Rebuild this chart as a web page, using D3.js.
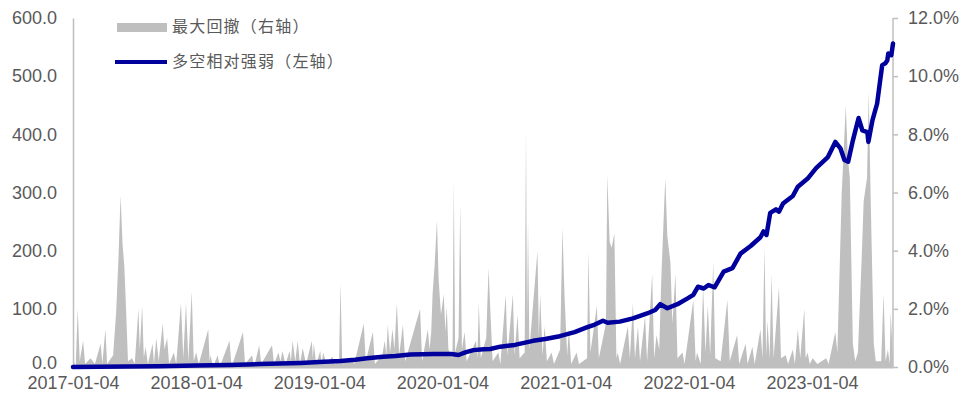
<!DOCTYPE html>
<html>
<head>
<meta charset="utf-8">
<script src="https://cdn.jsdelivr.net/npm/d3@7"></script>
<style>
  body { margin: 0; background: #fff; }
  svg text { font-family: "Liberation Sans", Arial, sans-serif; fill: #595959; }
  .legend text { font-family: "Noto Sans CJK SC", sans-serif; }
</style>
</head>
<body>
<svg id="chart" width="976" height="400"></svg>
<script>
// ─── Data ──────────────────────────────────────
const xTickDates = ["2017-01-04", "2018-01-04", "2019-01-04", "2020-01-04", "2021-01-04", "2022-01-04", "2023-01-04"];
const leftTicks  = [0, 100, 200, 300, 400, 500, 600];
const rightTicks = [0, 2, 4, 6, 8, 10, 12];
const seriesNames = ["最大回撤（右轴）", "多空相对强弱（左轴）"];

// 多空相对强弱 (left axis)
const strength = [
  ["2017-01-04", 0], ["2017-03-20", 0.5], ["2017-06-15", 1], ["2017-09-15", 1.5],
  ["2018-01-04", 2.5], ["2018-04-13", 3.5], ["2018-07-12", 5], ["2018-11-10", 7],
  ["2019-01-04", 8.5], ["2019-03-08", 10.3], ["2019-04-20", 12.5], ["2019-05-26", 15],
  ["2019-07-12", 17.7], ["2019-08-18", 19], ["2019-10-01", 21.5], ["2019-12-11", 22.3],
  ["2020-01-30", 22.5], ["2020-02-21", 20.6], ["2020-03-12", 25], ["2020-04-05", 29],
  ["2020-05-05", 30.4], ["2020-05-25", 31], ["2020-06-24", 35], ["2020-08-06", 38],
  ["2020-09-29", 45], ["2020-11-04", 48], ["2020-12-17", 53], ["2021-01-30", 60],
  ["2021-03-07", 68], ["2021-03-31", 73], ["2021-04-24", 79.6], ["2021-05-08", 76],
  ["2021-06-13", 78], ["2021-07-22", 83.7], ["2021-09-02", 92], ["2021-09-26", 98],
  ["2021-10-11", 108], ["2021-11-01", 101], ["2021-12-01", 108], ["2021-12-31", 118],
  ["2022-01-17", 124], ["2022-01-31", 138], ["2022-02-17", 135], ["2022-03-03", 141],
  ["2022-03-21", 137], ["2022-04-17", 164], ["2022-05-13", 170], ["2022-06-06", 195],
  ["2022-07-06", 208], ["2022-08-04", 223], ["2022-08-13", 233], ["2022-08-22", 227],
  ["2022-09-02", 265], ["2022-09-19", 271], ["2022-09-28", 267], ["2022-10-10", 281],
  ["2022-11-08", 294], ["2022-11-23", 310], ["2022-12-22", 324], ["2023-01-16", 342],
  ["2023-02-20", 361], ["2023-03-14", 387], ["2023-03-29", 376], ["2023-04-10", 356],
  ["2023-04-21", 353], ["2023-05-04", 387], ["2023-05-22", 428], ["2023-06-02", 407],
  ["2023-06-17", 404], ["2023-06-20", 387], ["2023-07-02", 424], ["2023-07-16", 453],
  ["2023-07-25", 493], ["2023-07-31", 519], ["2023-08-09", 522], ["2023-08-15", 527],
  ["2023-08-18", 539], ["2023-08-27", 536], ["2023-09-01", 556]
];

// 最大回撤 in % (right axis)
const drawdown = [
  ["2017-01-04",0.3],["2017-01-12",0],["2017-01-18",2.0],["2017-01-24",0.2],["2017-02-03",0.9],["2017-02-09",0.1],
  ["2017-02-25",0.3],["2017-03-10",0.1],["2017-03-27",0.8],["2017-04-01",0.1],["2017-04-10",1.3],["2017-04-15",0.1],
  ["2017-05-03",0.4],["2017-05-12",1.9],["2017-05-19",3.8],["2017-05-25",5.9],["2017-05-31",4.2],["2017-06-05",3.5],
  ["2017-06-09",2.4],["2017-06-16",0.2],["2017-06-28",0.3],["2017-07-06",0.1],["2017-07-17",2.0],["2017-07-21",0.6],
  ["2017-07-28",2.1],["2017-08-02",0.3],["2017-08-07",0.7],["2017-08-14",0.1],["2017-08-28",0.8],["2017-09-01",0.1],
  ["2017-09-08",1.0],["2017-09-15",0.2],["2017-09-27",1.5],["2017-10-02",0.6],["2017-10-10",1.0],["2017-10-16",0.1],
  ["2017-10-30",0.5],["2017-11-06",0.1],["2017-11-20",2.2],["2017-11-27",0.3],["2017-12-05",2.2],["2017-12-12",0.2],
  ["2017-12-22",2.6],["2017-12-28",0.2],
  ["2018-01-04",0.5],["2018-01-12",0.1],["2018-02-09",1.3],["2018-02-13",0.2],["2018-02-16",0.4],["2018-02-23",0],
  ["2018-03-09",0.4],["2018-03-15",0],["2018-04-13",0.9],["2018-04-19",0],["2018-05-23",1.2],["2018-05-29",0.1],
  ["2018-06-19",0.4],["2018-06-25",0],["2018-07-10",0.75],["2018-07-16",0.1],["2018-08-17",0.75],["2018-08-23",0.1],
  ["2018-09-05",0.5],["2018-09-11",0.2],["2018-09-17",0.55],["2018-09-26",0.1],["2018-10-08",0.55],["2018-10-12",0.2],
  ["2018-10-17",0.9],["2018-10-25",0.2],["2018-11-01",0.9],["2018-11-08",0.1],["2018-11-16",0.65],["2018-11-26",0.1],
  ["2018-12-13",0.9],["2018-12-16",0.3],["2018-12-19",0.8],["2018-12-26",0.1],
  ["2019-01-07",0.55],["2019-01-11",0.1],["2019-01-16",0.5],["2019-01-25",0.1],["2019-02-12",0.35],["2019-02-20",0.1],
  ["2019-03-04",0.3],["2019-03-08",2.9],["2019-03-13",0.2],["2019-04-10",0.3],["2019-04-18",0.1],["2019-05-16",1.5],
  ["2019-05-22",0.2],["2019-06-12",1.2],["2019-06-18",0.1],["2019-07-10",0.4],["2019-07-17",0.9],["2019-07-22",0.4],
  ["2019-07-26",1.45],["2019-08-02",0.5],["2019-08-09",1.3],["2019-08-15",0.6],["2019-08-22",2.2],["2019-08-29",0.4],
  ["2019-09-09",1.45],["2019-09-16",0.2],["2019-10-30",2.0],["2019-11-05",0.2],["2019-11-22",1.3],["2019-11-27",0.6],
  ["2019-12-02",1.2],["2019-12-06",2.5],["2019-12-12",3.5],["2019-12-19",5.05],["2019-12-24",3.0],["2019-12-31",1.8],
  ["2020-01-08",2.5],["2020-01-13",1.2],["2020-01-17",2.1],["2020-01-22",0.6],
  ["2020-02-03",0.3],["2020-02-07",6.4],["2020-02-11",0.5],["2020-02-21",1.0],["2020-02-26",5.6],["2020-03-02",0.6],
  ["2020-03-10",1.2],["2020-03-16",0.2],["2020-04-13",0.9],["2020-04-17",0.3],["2020-04-21",2.2],["2020-04-27",0.3],
  ["2020-05-13",1.0],["2020-05-20",3.4],["2020-05-25",2.0],["2020-06-01",0.2],["2020-06-18",0.5],["2020-06-24",0.1],
  ["2020-07-10",2.5],["2020-07-15",0.4],["2020-07-31",2.5],["2020-08-05",0.4],["2020-08-14",1.8],["2020-08-20",0.3],
  ["2020-09-04",0.5],["2020-09-08",8.15],["2020-09-11",1.5],["2020-09-14",4.95],["2020-09-18",0.6],["2020-10-12",4.0],
  ["2020-10-16",1.0],["2020-10-20",2.5],["2020-10-27",0.4],["2020-11-02",1.4],["2020-11-09",0.2],["2020-11-23",0.5],
  ["2020-11-30",0.1],["2020-12-18",0.6],["2020-12-25",4.8],["2020-12-31",2.5],
  ["2021-01-08",0.4],["2021-01-13",1.3],["2021-01-20",0.1],["2021-02-05",0.5],["2021-02-12",0.1],["2021-03-08",0.3],
  ["2021-03-12",4.0],["2021-03-18",0.5],["2021-04-06",2.1],["2021-04-12",0.3],["2021-05-03",1.5],["2021-05-07",6.6],
  ["2021-05-14",4.3],["2021-05-20",4.1],["2021-05-28",4.6],["2021-06-03",0.3],["2021-06-07",0.5],["2021-06-14",0.1],
  ["2021-07-07",1.4],["2021-07-13",0.3],["2021-07-22",2.2],["2021-07-28",0.3],["2021-08-06",1.4],["2021-08-12",0.2],
  ["2021-08-27",1.75],["2021-09-02",0.2],["2021-09-17",3.2],["2021-09-23",0.3],["2021-09-30",1.1],["2021-10-08",0.6],
  ["2021-10-14",3.0],["2021-10-20",4.8],["2021-10-26",6.5],["2021-11-01",4.5],["2021-11-10",3.6],["2021-11-16",1.5],
  ["2021-11-25",3.2],["2021-12-01",0.3],["2021-12-16",0.5],["2021-12-22",0.1],
  ["2022-01-17",2.3],["2022-01-24",0.2],["2022-01-28",0.5],["2022-02-08",0.1],["2022-02-15",2.75],["2022-02-22",0.5],
  ["2022-03-01",2.1],["2022-03-08",0.4],["2022-03-17",3.6],["2022-03-23",0.3],["2022-04-08",0.2],["2022-04-28",2.3],
  ["2022-05-05",0.2],["2022-05-27",1.1],["2022-06-02",0.1],["2022-06-21",0.8],["2022-06-27",0.1],["2022-07-11",0.7],
  ["2022-07-18",0.1],["2022-08-04",1.3],["2022-08-10",0.3],["2022-08-16",4.1],["2022-08-21",0.4],["2022-08-25",1.6],
  ["2022-08-31",0.3],["2022-09-06",3.2],["2022-09-12",0.3],["2022-09-28",2.75],["2022-10-04",0.3],["2022-10-18",0.4],
  ["2022-10-25",0.1],["2022-11-08",0.6],["2022-11-14",0.1],["2022-11-23",1.3],["2022-11-30",0.3],["2022-12-12",2.0],
  ["2022-12-16",0.3],["2022-12-22",0.5],["2022-12-28",0.1],
  ["2023-01-06",0.3],["2023-01-20",0.1],["2023-02-15",0.3],["2023-02-22",0.1],["2023-03-14",1.2],["2023-03-20",0.5],
  ["2023-04-02",6.0],["2023-04-07",7.2],["2023-04-14",9.0],["2023-04-20",7.2],["2023-04-26",6.5],["2023-05-05",0.8],
  ["2023-05-12",0.2],["2023-05-20",0.5],["2023-06-01",4.0],["2023-06-06",5.7],["2023-06-16",6.5],["2023-06-21",9.5],
  ["2023-06-27",5.7],["2023-07-06",0.8],["2023-07-12",0.2],["2023-07-28",0.2],["2023-08-04",2.5],["2023-08-10",0.2],
  ["2023-08-17",0.6],["2023-08-22",0.1],["2023-08-25",1.9],["2023-09-01",0.3]
];

// ─── Setup ─────────────────────────────────────
const parse = d3.timeParse('%Y-%m-%d');
const svg = d3.select('#chart');
const W = 976, H = 400;
const margin = { top: 18, right: 83, bottom: 33, left: 73 };
const IW = W - margin.left - margin.right,
      IH = H - margin.top - margin.bottom;

const g = svg.append('g').attr('transform', `translate(${margin.left},${margin.top})`);

const x  = d3.scaleTime().domain([parse('2017-01-04'), parse('2023-09-01')]).range([0, IW]);
const yL = d3.scaleLinear().domain([0, 600]).range([IH, 0]);
const yR = d3.scaleLinear().domain([0, 12]).range([IH, 0]);

// ─── Drawdown area ─────────────────────────────
const area = d3.area()
  .x(d => x(parse(d[0])))
  .y0(IH)
  .y1(d => yR(d[1]));

g.append('path')
  .datum(drawdown)
  .attr('d', area)
  .attr('fill', '#bfbfbf');

// ─── Axes ──────────────────────────────────────
const axisColor = '#bfbfbf';

const gx = g.append('g')
  .attr('transform', `translate(0,${IH})`)
  .call(d3.axisBottom(x).tickValues(xTickDates.map(parse))
    .tickFormat(d3.timeFormat('%Y-%m-%d')).tickSize(0).tickPadding(9));

const gl = g.append('g')
  .call(d3.axisLeft(yL).tickValues(leftTicks).tickFormat(d3.format('.1f')).tickSize(0).tickPadding(16));

const gr = g.append('g')
  .attr('transform', `translate(${IW},0)`)
  .call(d3.axisRight(yR).tickValues(rightTicks).tickFormat(d => d.toFixed(1) + '%').tickSize(5).tickPadding(10));

[gx, gl, gr].forEach(a => {
  a.select('.domain').attr('stroke', axisColor).attr('stroke-width', 1.5);
  a.selectAll('.tick line').attr('stroke', axisColor).attr('stroke-width', 1.5);
  a.selectAll('text').attr('font-size', 18).attr('fill', '#595959')
    .attr('font-family', '"Liberation Sans", Arial, sans-serif');
});
gr.select('.domain').attr('d', `M0,0H0V${IH}H0`);
gx.select('.domain').attr('stroke-width', 2);
// keep the bottom-left labels from touching
gl.selectAll('.tick text').filter(d => d === 0).attr('dy', '0.1em');

// ─── Strength line ─────────────────────────────
const line = d3.line()
  .x(d => x(parse(d[0])))
  .y(d => yL(d[1]));

g.append('path')
  .datum(strength)
  .attr('d', line)
  .attr('fill', 'none')
  .attr('stroke', '#00009c')
  .attr('stroke-width', 4.5)
  .attr('stroke-linejoin', 'round')
  .attr('stroke-linecap', 'round');

// ─── Legend ────────────────────────────────────
const lg = svg.append('g').attr('class', 'legend');
lg.append('rect').attr('x', 117).attr('y', 23).attr('width', 50).attr('height', 9).attr('fill', '#bfbfbf');
lg.append('text').attr('x', 172).attr('y', 28).attr('dominant-baseline', 'middle')
  .attr('font-size', 16).attr('letter-spacing', 1.2).text(seriesNames[0]);
lg.append('line').attr('x1', 115).attr('x2', 167).attr('y1', 62).attr('y2', 62)
  .attr('stroke', '#00009c').attr('stroke-width', 4);
lg.append('text').attr('x', 172).attr('y', 63).attr('dominant-baseline', 'middle')
  .attr('font-size', 16).attr('letter-spacing', 1.2).text(seriesNames[1]);
</script>
</body>
</html>
